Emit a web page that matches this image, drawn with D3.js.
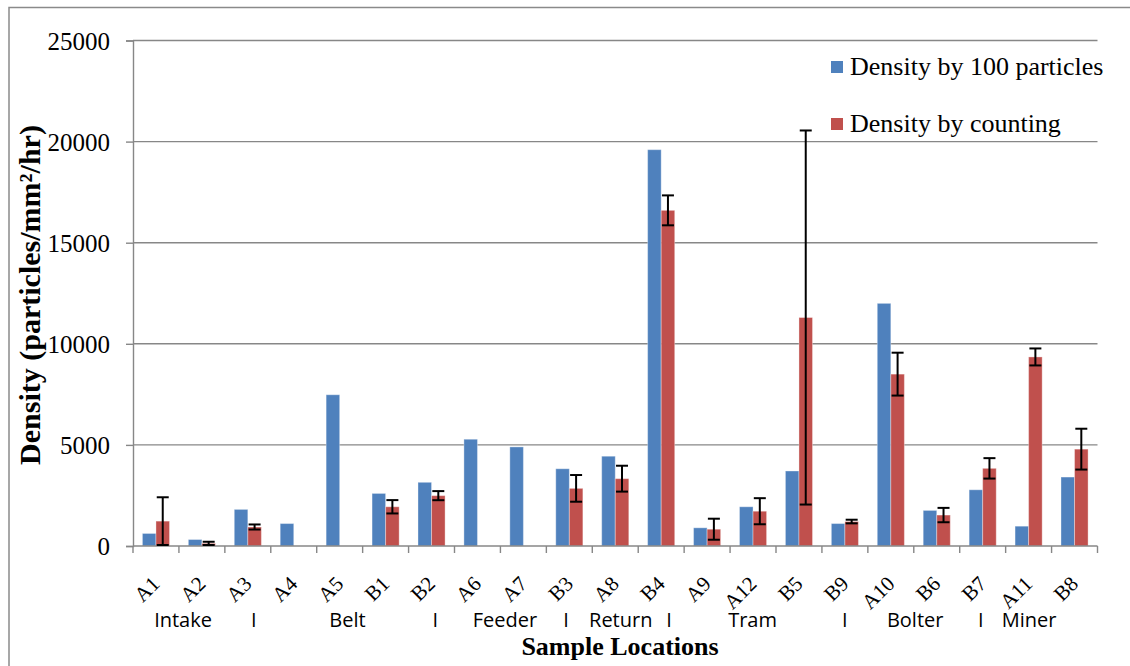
<!DOCTYPE html>
<html>
<head>
<meta charset="utf-8">
<script src="https://cdn.jsdelivr.net/npm/d3@7"></script>
<style>
  html, body { margin: 0; padding: 0; background: #fff; }
  svg { display: block; }
</style>
</head>
<body>
<svg id="chart" width="1130" height="666"></svg>
<script>
// Sample locations along the x axis
const categories = ["A1","A2","A3","A4","A5","B1","B2","A6","A7","B3","A8","B4","A9","A12","B5","B9","A10","B6","B7","A11","B8"];

// Density estimated from 100 particles (particles/mm²/hr)
const density100 = [620, 320, 1810, 1110, 7480, 2600, 3150, 5280, 4900, 3820, 4440, 19600, 900, 1940, 3710, 1110, 12000, 1760, 2780, 980, 3410];

// Density by counting, with its error (± value); null = not measured
const densityCount = [1230, 130, 940, null, null, 1940, 2490, null, null, 2850, 3330, 16600, 830, 1720, 11300, 1210, 8500, 1530, 3840, 9350, 4790];
const countError   = [1180, 80, 125, null, null, 330, 225, null, null, 660, 640, 740, 520, 645, 9250, 90, 1060, 355, 505, 420, 1010];

// Series names for the legend
const seriesNames = ["Density by 100 particles", "Density by counting"];

// Y axis ticks
const yTicks = [0, 5000, 10000, 15000, 20000, 25000];

// Area labels written under the location codes, separated by "I"
const areaLabels = ["Intake", "I", "Belt", "I", "Feeder", "I", "Return", "I", "Tram", "I", "Bolter", "I", "Miner"];

// ---- layout ----
const W = 1130, H = 666;
const plot = { left: 133, right: 1097.5, top: 40.5, bottom: 546 };
const colors = ["#4F81BD", "#C0504D"];
const gridColor = "#878787";
const serif = "'Liberation Serif', 'Times New Roman', serif";
const sans = "'Open Sans', 'Noto Sans', sans-serif";

// fractional category positions where each area label is centred
const areaLabelAt = [0.59, 2.13, 4.17, 6.08, 7.6, 8.93, 10.12, 11.17, 12.99, 15.0, 16.53, 17.96, 19.01];

const svg = d3.select("#chart");

const x = d3.scaleBand().domain(categories).range([plot.left, plot.right]).padding(0);
const bw = x.bandwidth();
const xs = d3.scaleBand().domain([0, 1]).range([bw * 0.205, bw * 0.795]).padding(0);
const y = d3.scaleLinear().domain([0, 25000]).range([plot.bottom, plot.top]);
const idxToX = d3.scaleLinear().domain([0, categories.length]).range([plot.left, plot.right]);

// outer frame
svg.append("rect")
  .attr("x", 9).attr("y", 7.5)
  .attr("width", W + 20).attr("height", H + 20)
  .attr("fill", "none").attr("stroke", "#8a8a8a").attr("stroke-width", 1.5);

// horizontal gridlines
svg.append("g").selectAll("line").data(yTicks.filter(d => d > 0)).join("line")
  .attr("x1", plot.left).attr("x2", plot.right)
  .attr("y1", d => y(d)).attr("y2", d => y(d))
  .attr("stroke", gridColor).attr("stroke-width", 1.4);

// y axis
const yAxis = d3.axisLeft(y).tickValues(yTicks).tickSize(7).tickPadding(16).tickFormat(d3.format("d"));
const gy = svg.append("g").attr("transform", `translate(${plot.left},0)`).call(yAxis);
gy.select(".domain").attr("stroke", gridColor).attr("stroke-width", 1.4);
gy.selectAll(".tick line").attr("stroke", gridColor).attr("stroke-width", 1.4);
gy.selectAll(".tick text")
  .attr("font-family", serif).attr("font-size", 25).attr("fill", "#000")
  .attr("dy", "0.34em");

// bars: by 100 particles
svg.append("g").selectAll("rect").data(density100).join("rect")
  .attr("x", (d, i) => x(categories[i]) + xs(0))
  .attr("width", xs.bandwidth())
  .attr("y", d => y(d))
  .attr("height", d => y(0) - y(d))
  .attr("fill", colors[0])
  .attr("stroke", "rgba(255,255,255,0.35)").attr("stroke-width", 1);

// bars: by counting
const countData = densityCount.map((v, i) => ({ v, e: countError[i], c: categories[i] })).filter(d => d.v != null);
svg.append("g").selectAll("rect").data(countData).join("rect")
  .attr("x", d => x(d.c) + xs(1))
  .attr("width", xs.bandwidth())
  .attr("y", d => y(d.v))
  .attr("height", d => y(0) - y(d.v))
  .attr("fill", colors[1])
  .attr("stroke", "rgba(255,255,255,0.35)").attr("stroke-width", 1);

// x axis with ticks between categories
const gx = svg.append("g");
gx.append("line")
  .attr("x1", plot.left).attr("x2", plot.right)
  .attr("y1", plot.bottom).attr("y2", plot.bottom)
  .attr("stroke", gridColor).attr("stroke-width", 1.4);
gx.selectAll("line.tick").data(d3.range(categories.length + 1)).join("line")
  .attr("class", "tick")
  .attr("x1", d => idxToX(d)).attr("x2", d => idxToX(d))
  .attr("y1", plot.bottom).attr("y2", plot.bottom + 7)
  .attr("stroke", gridColor).attr("stroke-width", 1.4);

// error bars on counted densities
const eb = svg.append("g").attr("stroke", "#000").attr("stroke-width", 2);
const capHalf = 6;
countData.forEach(d => {
  const cx = x(d.c) + xs(1) + xs.bandwidth() / 2;
  const y1 = y(d.v + d.e), y2 = y(Math.max(0, d.v - d.e));
  eb.append("line").attr("x1", cx).attr("x2", cx).attr("y1", y1).attr("y2", y2);
  eb.append("line").attr("x1", cx - capHalf).attr("x2", cx + capHalf).attr("y1", y1).attr("y2", y1);
  eb.append("line").attr("x1", cx - capHalf).attr("x2", cx + capHalf).attr("y1", y2).attr("y2", y2);
});

// rotated location codes
svg.append("g").selectAll("text").data(categories).join("text")
  .attr("transform", d => `translate(${x(d) + bw / 2 + 5},${plot.bottom + 39}) rotate(-45)`)
  .attr("text-anchor", "end")
  .attr("font-family", serif).attr("font-size", 21).attr("fill", "#000")
  .text(d => d);

// area labels row
svg.append("g").selectAll("text").data(areaLabels).join("text")
  .attr("x", (d, i) => idxToX(areaLabelAt[i] + 0.5))
  .attr("y", 627)
  .attr("text-anchor", "middle")
  .attr("font-family", sans).attr("font-size", 20).attr("fill", "#000")
  .text(d => d);

// axis titles
svg.append("text")
  .attr("x", 620).attr("y", 655)
  .attr("text-anchor", "middle")
  .attr("font-family", serif).attr("font-size", 26).attr("font-weight", "bold")
  .text("Sample Locations");

svg.append("text")
  .attr("transform", `translate(40,295) rotate(-90)`)
  .attr("text-anchor", "middle")
  .attr("font-family", serif).attr("font-size", 30).attr("font-weight", "bold")
  .text("Density (particles/mm²/hr)");

// legend
const lg = svg.append("g");
seriesNames.forEach((name, i) => {
  const gy0 = 67 + i * 57;
  lg.append("rect")
    .attr("x", 831).attr("y", gy0 - 6).attr("width", 12).attr("height", 12)
    .attr("fill", colors[i]);
  lg.append("text")
    .attr("x", 850).attr("y", gy0 + 8)
    .attr("font-family", serif).attr("font-size", 26).attr("fill", "#000")
    .text(name);
});
</script>
</body>
</html>
